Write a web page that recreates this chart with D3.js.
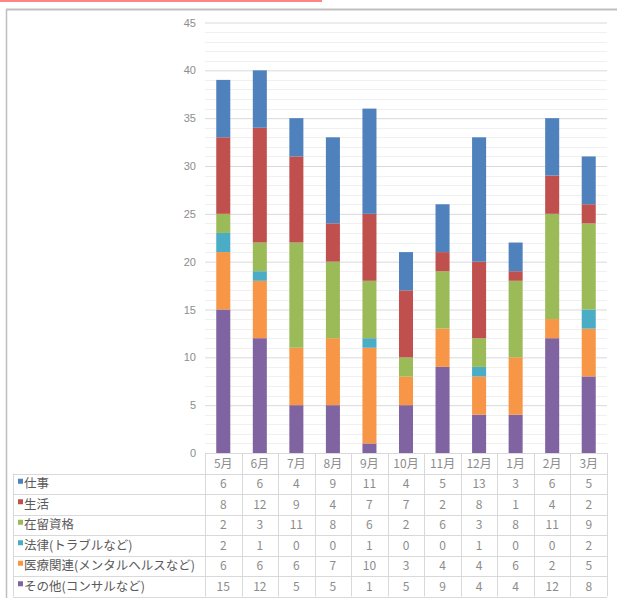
<!DOCTYPE html>
<html>
<head>
<meta charset="utf-8">
<script src="https://cdn.jsdelivr.net/npm/d3@7"></script>
<style>
  body { margin: 0; background: #fff; }
  svg { display: block; font-family: "Noto Sans CJK JP", "Noto Sans", sans-serif; }
</style>
</head>
<body>
<div id="chart"></div>
<script>
const months = ['5月', '6月', '7月', '8月', '9月', '10月', '11月', '12月', '1月', '2月', '3月'];
const seriesNames = ['仕事', '生活', '在留資格', '法律(トラブルなど)', '医療関連(メンタルヘルスなど)', 'その他(コンサルなど)'];
const shigoto = [6, 6, 4, 9, 11, 4, 5, 13, 3, 6, 5];
const seikatsu = [8, 12, 9, 4, 7, 7, 2, 8, 1, 4, 2];
const zairyu = [2, 3, 11, 8, 6, 2, 6, 3, 8, 11, 9];
const houritsu = [2, 1, 0, 0, 1, 0, 0, 1, 0, 0, 2];
const iryou = [6, 6, 6, 7, 10, 3, 4, 4, 6, 2, 5];
const sonota = [15, 12, 5, 5, 1, 5, 9, 4, 4, 12, 8];
const yTicks = [0, 5, 10, 15, 20, 25, 30, 35, 40, 45];
const colors = ['#4f81bd', '#c0504d', '#9bbb59', '#4bacc6', '#f79646', '#8064a2'];

const values = [shigoto, seikatsu, zairyu, houritsu, iryou, sonota];
const rows = months.map((m, i) => {
  const r = { month: m };
  seriesNames.forEach((s, j) => r[s] = values[j][i]);
  return r;
});

const W = 617, H = 598;
const plotL = 205, plotR = 607, plotT = 22.5, base = 453;
const rowH = 20.5, tableL = 13;

const svg = d3.select('#chart').append('svg')
  .attr('width', W)
  .attr('height', H);

// red marker line and frame
svg.append('rect').attr('x', 0).attr('y', 0).attr('width', 322).attr('height', 2).attr('fill', '#ff8585');
svg.append('line').attr('x1', 6).attr('x2', W).attr('y1', 9.5).attr('y2', 9.5)
  .attr('stroke', '#bfbfbf').attr('stroke-width', 2);
svg.append('line').attr('x1', 6.5).attr('x2', 6.5).attr('y1', 9).attr('y2', H)
  .attr('stroke', '#bfbfbf').attr('stroke-width', 1.5);

const y = d3.scaleLinear().domain([0, 45]).range([base, plotT]);
const x = d3.scaleBand().domain(months).range([plotL, plotR]).paddingInner(0.616).paddingOuter(0.308);
const col = d3.scaleBand().domain(months).range([plotL, plotR]);

// minor gridlines
svg.append('g').selectAll('line')
  .data(d3.range(1, 46).filter(v => v % 5 !== 0))
  .join('line')
  .attr('x1', plotL).attr('x2', plotR)
  .attr('y1', d => Math.round(y(d)) + 0.5).attr('y2', d => Math.round(y(d)) + 0.5)
  .attr('stroke', '#f0f0f0');

// major gridlines
const yAxis = svg.append('g')
  .attr('transform', `translate(${plotL},0)`)
  .call(d3.axisLeft(y).tickValues(yTicks).tickSize(-(plotR - plotL)).tickPadding(9));
yAxis.select('.domain').remove();
yAxis.selectAll('.tick line').attr('stroke', '#d9d9d9');
yAxis.selectAll('.tick text').attr('fill', '#8c8c8c').attr('font-size', 11)
  .attr('font-family', '"Liberation Sans", Arial, sans-serif');

// stacked bars (bottom: その他)
const stackKeys = seriesNames.slice().reverse();
const stacked = d3.stack().keys(stackKeys)(rows);
svg.append('g').selectAll('g')
  .data(stacked)
  .join('g')
  .attr('fill', d => colors[seriesNames.indexOf(d.key)])
  .selectAll('rect')
  .data(d => d)
  .join('rect')
  .attr('x', d => x(d.data.month))
  .attr('width', x.bandwidth())
  .attr('y', d => y(d[1]))
  .attr('height', d => y(d[0]) - y(d[1]));

// data table
const table = svg.append('g');
const tableBottom = base + rowH * (seriesNames.length + 1);
const gridColor = '#d9d9d9';

// horizontal lines
table.append('line').attr('x1', plotL).attr('x2', plotR).attr('y1', base + 0.5).attr('y2', base + 0.5).attr('stroke', gridColor);
d3.range(1, seriesNames.length + 2).forEach(k => {
  const yy = Math.round(base + k * rowH) + 0.5;
  table.append('line').attr('x1', tableL).attr('x2', plotR).attr('y1', yy).attr('y2', yy).attr('stroke', gridColor);
});
// vertical lines
months.forEach(m => {
  const xx = Math.round(col(m)) + 0.5;
  table.append('line').attr('x1', xx).attr('x2', xx).attr('y1', base).attr('y2', tableBottom).attr('stroke', gridColor);
});
table.append('line').attr('x1', plotR + 0.5).attr('x2', plotR + 0.5).attr('y1', base).attr('y2', tableBottom).attr('stroke', gridColor);
table.append('line').attr('x1', tableL + 0.5).attr('x2', tableL + 0.5).attr('y1', base + rowH).attr('y2', tableBottom).attr('stroke', gridColor);

// month headers
table.append('g').selectAll('text')
  .data(months)
  .join('text')
  .attr('x', d => col(d) + col.bandwidth() / 2)
  .attr('y', base + rowH / 2)
  .attr('dy', '0.36em')
  .attr('text-anchor', 'middle')
  .attr('font-size', 12)
  .attr('fill', '#8c8c8c')
  .text(d => d);

// row labels with legend keys
const rowG = table.append('g').selectAll('g')
  .data(seriesNames)
  .join('g')
  .attr('transform', (d, i) => `translate(0,${base + rowH * (i + 1)})`);
rowG.append('rect')
  .attr('x', 18).attr('y', rowH / 2 - 5)
  .attr('width', 5).attr('height', 5)
  .attr('fill', (d, i) => colors[i]);
rowG.append('text')
  .attr('x', 24)
  .attr('y', rowH / 2)
  .attr('dy', '0.36em')
  .attr('font-size', 12.5)
  .attr('fill', '#5a5a5a')
  .text(d => d);

// values
rowG.each(function(name, i) {
  d3.select(this).selectAll('text.v')
    .data(values[i])
    .join('text')
    .attr('class', 'v')
    .attr('x', (d, j) => col(months[j]) + col.bandwidth() / 2)
    .attr('y', rowH / 2)
    .attr('dy', '0.36em')
    .attr('text-anchor', 'middle')
    .attr('font-size', 12)
    .attr('fill', '#8c8c8c')
    .text(d => d);
});
</script>
</body>
</html>
